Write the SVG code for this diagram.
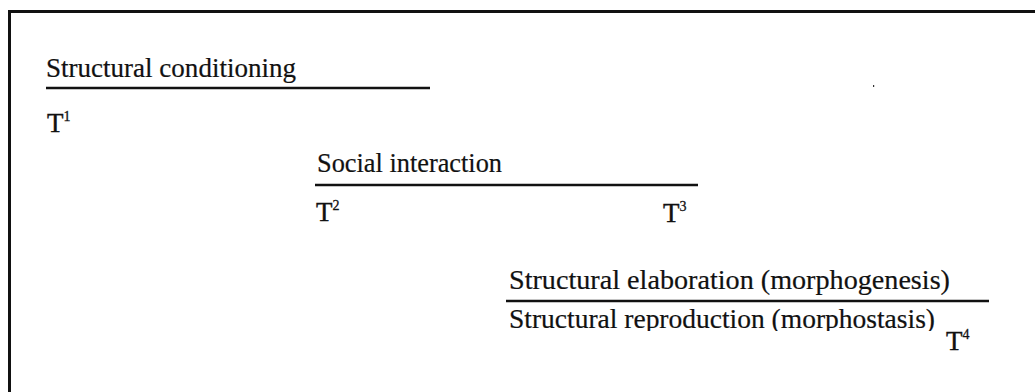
<svg xmlns="http://www.w3.org/2000/svg" width="1035" height="392" viewBox="0 0 1035 392">
<style>
.t{font-family:"Liberation Serif","Times New Roman",serif;font-size:27px;fill:#111;stroke:#111;stroke-width:0.2}
.T{font-family:"Liberation Serif","Times New Roman",serif;font-size:27px;fill:#111;stroke:#111;stroke-width:0.4}
.sup{font-size:14px;stroke-width:0.3}
.bar{stroke:#111;stroke-width:2.5;fill:none}
.frame{stroke:#111;stroke-width:3;fill:none}
</style>
<defs>
<clipPath id="clipRepro"><rect x="500" y="305" width="450" height="26"/></clipPath>
</defs>
<rect x="0" y="0" width="1035" height="392" fill="#fff"/>
<path class="frame" d="M9.5,392 V11.5 H1035"/>
<g id="conditioning">
<text class="t" x="46" y="77" textLength="250" lengthAdjust="spacingAndGlyphs">Structural conditioning</text>
<text class="T" x="47" y="132">T<tspan class="sup" dy="-11">1</tspan></text>
</g>
<g id="interaction">
<text class="t" x="317" y="172" textLength="185" lengthAdjust="spacingAndGlyphs">Social interaction</text>
<text class="T" x="316" y="221">T<tspan class="sup" dy="-11">2</tspan></text>
<text class="T" x="663" y="222">T<tspan class="sup" dy="-11">3</tspan></text>
</g>
<g id="elaboration">
<text class="t" x="509" y="289" textLength="441" lengthAdjust="spacingAndGlyphs">Structural elaboration (morphogenesis)</text>
<text class="t" x="509" y="328" textLength="426" lengthAdjust="spacingAndGlyphs" clip-path="url(#clipRepro)">Structural reproduction (morphostasis)</text>
<text class="T" x="946" y="350">T<tspan class="sup" dy="-11">4</tspan></text>
</g>
<g id="connectors">
<line class="bar" x1="46" y1="88" x2="430" y2="88"/>
<line class="bar" x1="315" y1="185" x2="698" y2="185"/>
<line class="bar" x1="506" y1="301" x2="989" y2="301"/>
</g>
<rect x="873" y="85" width="1.2" height="2" fill="#333"/>
</svg>
